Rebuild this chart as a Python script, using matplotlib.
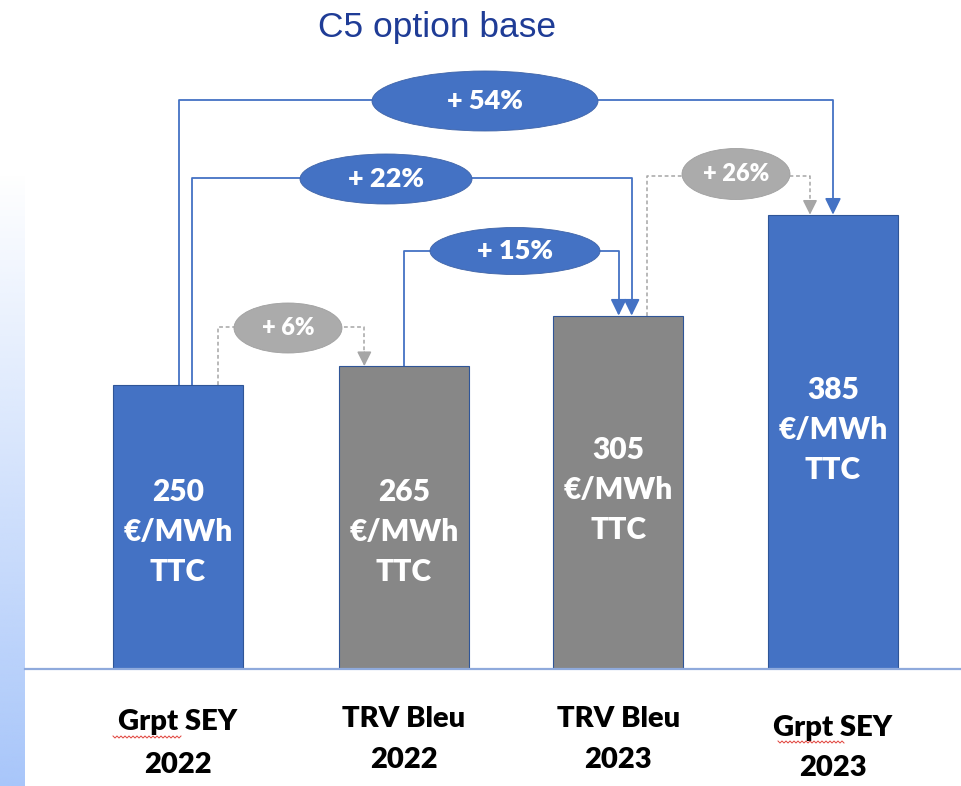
import numpy as np
import matplotlib
matplotlib.use("Agg")
import matplotlib.pyplot as plt
from matplotlib.patches import Ellipse

# ---------------- data ----------------
categories_line1 = ["Grpt SEY", "TRV Bleu", "TRV Bleu", "Grpt SEY"]
categories_line2 = ["2022", "2022", "2023", "2023"]
values = [250, 265, 305, 385]
unit_line = "€/MWh"
tax_line = "TTC"
bar_colors = ["#4472C4", "#878787", "#878787", "#4472C4"]
changes = ["+ 54%", "+ 22%", "+ 15%", "+ 6%", "+ 26%"]
change_from = [0, 0, 1, 0, 2]
change_to = [3, 2, 2, 1, 3]
change_style = ["blue", "blue", "blue", "gray", "gray"]
title = "C5 option base"

# ---------------- layout helpers (reference pixel -> data) ----------------
W, H = 962, 786
SX = 218.33          # px per category step
SY = 1.262           # px per value unit
Y0 = 25.0            # value at baseline
BASE_PX = 669        # baseline pixel row
X0_PX = 178          # first bar centre pixel


def X(px):
    return (px - X0_PX) / SX


def Y(py):
    return Y0 + (BASE_PX - py) / SY


fig = plt.figure(figsize=(W / 100, H / 100), dpi=100)
fig.patch.set_facecolor("white")

# left gradient strip
gax = fig.add_axes([0, 0, 25 / W, 1])
grad = np.ones((400, 1, 4))
t = np.linspace(0, 1, 400)
start = 0.78
grad[:, 0, 0] = 168 / 255
grad[:, 0, 1] = 198 / 255
grad[:, 0, 2] = 250 / 255
alpha = np.clip((t - (1 - start)) / start, 0, 1)  # t=0 top row
grad[:, 0, 3] = alpha
gax.imshow(grad, aspect="auto", extent=[0, 1, 0, 1], origin="upper")
gax.axis("off")

ax = fig.add_axes([25 / W, (H - BASE_PX) / H, (W - 25) / W, BASE_PX / H])
ax.set_xlim(X(25), X(962))
ax.set_ylim(Y0, Y(0))
for s in ["top", "right", "left"]:
    ax.spines[s].set_visible(False)
ax.spines["bottom"].set_color("#8FAADC")
ax.spines["bottom"].set_linewidth(1.6)
ax.set_xticks([])
ax.set_yticks([])
ax.patch.set_alpha(0)

# slight offsets so bars sit where they do in the reference layout
x_shift = np.array([0, 7.5, 3.5, 0]) / SX
xs = np.arange(len(values)) + x_shift
bw = 130 / SX
ax.bar(xs, values, width=bw, color=bar_colors, edgecolor="#2F5597",
       linewidth=0.8, zorder=2)

FONT = "Lato"
WT = "heavy"

# labels inside bars
label_center_px = [532, 532, 490, 430]
for i, v in enumerate(values):
    cy = label_center_px[i]
    for k, txt in enumerate([str(v), unit_line, tax_line]):
        ax.text(xs[i], Y(cy + (k - 1) * 40), txt, ha="center", va="center",
                color="white", fontsize=21.5, fontweight=WT, family=FONT,
                zorder=5)

# category labels
cat_px = [(722, 765), (719, 760), (719, 760), (728, 768)]
for i in range(len(values)):
    ax.text(xs[i], Y(cat_px[i][0]), categories_line1[i], ha="center",
            va="center", color="black", fontsize=21, fontweight=WT,
            family=FONT, clip_on=False)
    ax.text(xs[i], Y(cat_px[i][1]), categories_line2[i], ha="center",
            va="center", color="black", fontsize=21, fontweight=WT,
            family=FONT, clip_on=False)

# red spell-check squiggles under "Grpt"
for (x1, x2, yy) in [(113, 181, 737), (778, 845, 742)]:
    pxs = np.arange(x1, x2 + 0.1, 2.0)
    pys = yy + np.where(np.arange(len(pxs)) % 2 == 0, -1.0, 1.0)
    ax.plot([X(p) for p in pxs], [Y(p) for p in pys], color="#E0413A",
            lw=0.7, clip_on=False, zorder=3)

# connectors: (start offset px from bar centre, level px, end offset px, ellipse cx, cy, w, h)
conn = [
    (1, 100, 0, 485, 101, 226, 60),
    (14, 178, 13.5, 386, 179, 172, 50),
    (0, 251, 0.5, 515, 251, 170, 47),
    (40, 327, -39.5, 288, 328, 108, 50),
    (28.5, 176, -23, 736, 174, 108, 51),
]
BLUE = "#4472C4"
GRAY = "#A6A6A6"
for j, (so, lvl, eo, ecx, ecy, ew, eh) in enumerate(conn):
    a, b = change_from[j], change_to[j]
    xa = xs[a] + so / SX
    xb = xs[b] + eo / SX
    if change_style[j] == "blue":
        col, ls, lw, efc = BLUE, "-", 1.3, BLUE
        head = "-|>,head_length=0.45,head_width=0.22"
        fs = 19.5
    else:
        col, ls, lw, efc = GRAY, (0, (2.5, 1.8)), 1.1, "#ABABAB"
        head = "-|>,head_length=0.4,head_width=0.2"
        fs = 17
    ytip = values[b]
    yhead_start = ytip + 14 / SY
    ax.plot([xa, xa, xb, xb], [values[a], Y(lvl), Y(lvl), yhead_start],
            color=col, lw=lw, ls=ls, zorder=1, solid_capstyle="butt")
    ax.annotate("", xy=(xb, ytip), xytext=(xb, yhead_start),
                arrowprops=dict(arrowstyle=head, color=col, lw=lw,
                                mutation_scale=22, shrinkA=0, shrinkB=0),
                zorder=1)
    e = Ellipse((X(ecx), Y(ecy)), ew / SX, eh / SY, facecolor=efc,
                edgecolor="#3F64A8" if change_style[j] == "blue" else "#A0A0A0",
                lw=0.6, zorder=4)
    ax.add_patch(e)
    ax.text(X(ecx), Y(ecy), changes[j], ha="center", va="center",
            color="white", fontsize=fs, fontweight=WT, family=FONT,
            zorder=6)

# title
fig.text(437 / W, 1 - 27 / H, title, ha="center", va="center",
         color="#1F3C96", fontsize=25.5, family="Liberation Sans")

fig.savefig("out.png", dpi=100)
